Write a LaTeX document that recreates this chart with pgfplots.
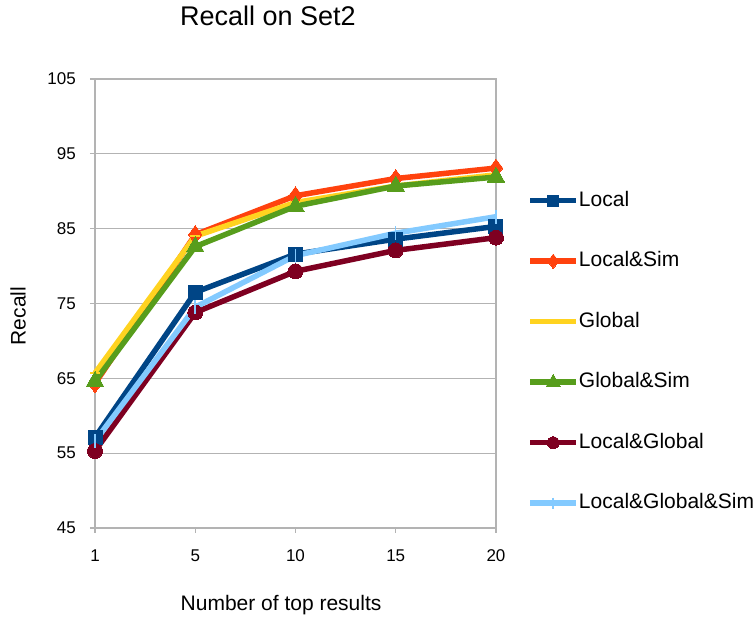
\documentclass[border=0pt]{standalone}
\usepackage{pgfplots}
\pgfplotsset{compat=1.18}
\usepackage{fontspec}
\setmainfont{Liberation Sans}

\definecolor{cLocal}{HTML}{004586}
\definecolor{cLocalSim}{HTML}{FF420E}
\definecolor{cGlobal}{HTML}{FFD320}
\definecolor{cGlobalSim}{HTML}{579D1C}
\definecolor{cLocalGlobal}{HTML}{7E0021}
\definecolor{cLGS}{HTML}{83CAFF}
\definecolor{gridgray}{HTML}{B3B3B3}

\pgfplotstableread{
x Local LocalSim Global GlobalSim LocalGlobal LGS
0 57.1  64.3     65.7   64.6      55.3        56.6
1 76.5  84.2     84.0   82.6      73.8        74.5
2 81.6  89.4     88.5   88.0      79.3        81.4
3 83.6  91.7     90.7   90.7      82.1        84.4
4 85.3  93.1     92.2   91.9      83.8        86.6
}\recall

\begin{document}
\begin{tikzpicture}
\path[use as bounding box] (0,0) rectangle (756pt,621pt);
\begin{axis}[
  at={(95pt,93pt)}, anchor=south west,
  scale only axis, width=401pt, height=449pt,
  xmin=0, xmax=4, ymin=45, ymax=105,
  xtick={0,1,2,3,4}, xticklabels={1,5,10,15,20},
  ytick={45,55,...,105},
  ymajorgrids, major grid style={gridgray, line width=1.2pt},
  axis line style={gridgray, line width=1.2pt},
  tick style={gridgray, line width=1.2pt},
  tick align=outside, tick pos=left,
  major tick length=5pt,
  clip=false,
  /pgf/number format/assume math mode=true,
  tick label style={font=\fontsize{17}{20}\selectfont, inner sep=0pt},
  xticklabel style={text height=12pt, text depth=0pt, yshift=-16pt},
  yticklabel style={xshift=-14pt},
  title={Recall on Set2},
  title style={font=\fontsize{27}{30}\selectfont, at={(axis description cs:0.431,1.127)}, anchor=center},
  xlabel={Number of top results},
  xlabel style={font=\fontsize{21}{24}\selectfont, at={(axis description cs:0.464,-0.1715)}, anchor=center},
  ylabel={Recall},
  ylabel style={font=\fontsize{21}{24}\selectfont, at={(axis description cs:-0.192,0.472)}, anchor=center, rotate=0},
  legend cell align=left,
  legend style={
    at={(axis description cs:1.078,0.392)}, anchor=west,
    draw=none, fill=none, inner sep=0pt,
    font=\fontsize{21}{24}\selectfont,
    nodes={inner sep=0pt, text height=15pt, text depth=4pt},
    row sep=41.5pt, column sep=0pt,
  },
  legend image code/.code={
    \draw[mark repeat=2, mark phase=2, #1, every mark/.append style={scale=0.8}]
      plot coordinates {(0pt,0pt) (23pt,0pt) (46pt,0pt)};
  },
  every axis plot/.append style={line width=5.5pt, line join=round},
]
\addplot[cLocal, mark=square*, mark size=7pt, mark options={solid, line width=0pt}]
  table[x=x, y=Local] {\recall};
\addlegendentry{Local}
\addplot[cLocalSim, mark=diamond*, mark size=9pt, mark options={solid, line width=0pt}]
  table[x=x, y=LocalSim] {\recall};
\addlegendentry{Local\&Sim}
\addplot[cGlobal, mark=-, mark size=5pt, mark options={solid, line width=2pt}]
  table[x=x, y=Global] {\recall};
\addlegendentry{Global}
\addplot[cGlobalSim, mark=triangle*, mark size=10pt, mark options={solid, line width=0pt}]
  table[x=x, y=GlobalSim] {\recall};
\addlegendentry{Global\&Sim}
\addplot[cLocalGlobal, mark=*, mark size=7.5pt, mark options={solid, line width=0pt}]
  table[x=x, y=LocalGlobal] {\recall};
\addlegendentry{Local\&Global}
\addplot[cLGS, mark=|, mark size=7pt, mark options={solid, line width=1.5pt}]
  table[x=x, y=LGS] {\recall};
\addlegendentry{Local\&Global\&Sim}
\end{axis}
\end{tikzpicture}
\end{document}
